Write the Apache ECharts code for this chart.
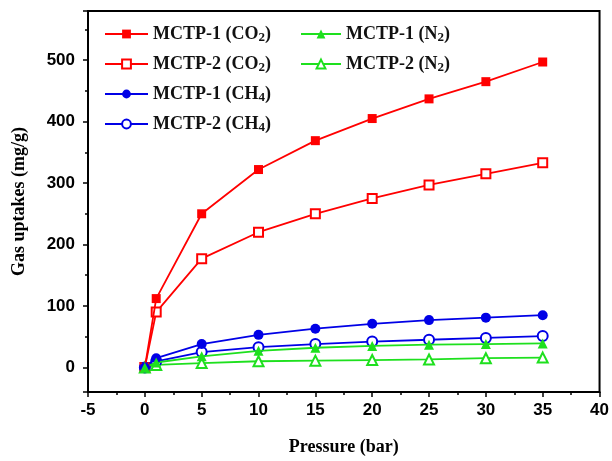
<!DOCTYPE html>
<html>
<head>
<meta charset="utf-8">
<script src="https://cdn.jsdelivr.net/npm/echarts@6/dist/echarts.min.js"></script>
<style>
  html, body { margin: 0; padding: 0; background: #fff; }
  #chart { width: 612px; height: 461px; }
</style>
</head>
<body>
<div id="chart"></div>
<script>
// pressure (bar)
const pressure = [0, 1, 5, 10, 15, 20, 25, 30, 35];
// gas uptakes (mg/g)
const mctp1CO2 = [0, 112, 250, 322, 369, 405, 437, 465, 497];
const mctp2CO2 = [0, 90, 177, 220, 250, 275, 297, 315, 333];
const mctp1CH4 = [0, 15, 38, 53, 63, 71, 77, 81, 85];
const mctp2CH4 = [0, 10, 25, 33, 38, 42, 45, 48, 51];
const mctp1N2 = [0, 8, 18, 27, 32, 35, 37, 38, 39];
const mctp2N2 = [0, 4, 7, 10, 11, 12, 13, 15, 16];

const RED = '#ff0000', BLUE = '#0000e6', GREEN = '#1ee01e';

function pairs(ys) {
  return pressure.map((x, i) => [x, ys[i]]);
}

function makeSeries(name, ys, color, symbol, size) {
  const empty = symbol.indexOf('empty') === 0;
  return {
    name: name,
    type: 'line',
    data: pairs(ys),
    symbol: symbol,
    symbolSize: size,
    showAllSymbol: true,
    lineStyle: { color: color, width: 1.8 },
    itemStyle: { color: color, borderWidth: empty ? 1.1 : 0, borderColor: color },
    z: empty ? 3 : 4
  };
}

// subscript the formula digit in legend names
function legendFmt(name) {
  return name.replace(/\(([A-Z]+)(\d)\)/, '($1{sub|$2})');
}
const legendText = {
  fontFamily: 'Liberation Serif',
  fontWeight: 'bold',
  fontSize: 18,
  color: '#111',
  rich: {
    sub: { fontFamily: 'Liberation Serif', fontWeight: 'bold', fontSize: 13, color: '#111', padding: [7, 0, 0, 0] }
  }
};

const chart = echarts.init(document.getElementById('chart'));
chart.setOption({
  animation: false,
  grid: { left: 88, right: 11, top: 11, bottom: 69, show: true, borderColor: '#000', borderWidth: 2 },
  legend: [
    {
      data: ['MCTP-1 (CO2)', 'MCTP-2 (CO2)', 'MCTP-1 (CH4)', 'MCTP-2 (CH4)'],
      orient: 'vertical', left: 99, top: 20,
      itemWidth: 43, itemHeight: 11, itemGap: 11,
      formatter: legendFmt, textStyle: legendText
    },
    {
      data: ['MCTP-1 (N2)', 'MCTP-2 (N2)'],
      orient: 'vertical', left: 295, top: 20,
      itemWidth: 40, itemHeight: 11, itemGap: 11,
      formatter: legendFmt, textStyle: legendText
    }
  ],
  xAxis: {
    type: 'value', min: -5, max: 40, interval: 5,
    name: 'Pressure (bar)', nameLocation: 'middle', nameGap: 46,
    nameTextStyle: { fontFamily: 'Liberation Serif', fontWeight: 'bold', fontSize: 18, color: '#000' },
    axisLine: { onZero: false, lineStyle: { color: '#000', width: 2 } },
    axisTick: { show: true, inside: false, length: 5, lineStyle: { color: '#000', width: 1.5 } },
    minorTick: { show: true, splitNumber: 2, length: 3, lineStyle: { color: '#000', width: 1.5 } },
    axisLabel: { fontFamily: 'Liberation Sans', fontWeight: 'bold', fontSize: 17, color: '#000', margin: 10 },
    splitLine: { show: false }
  },
  yAxis: {
    type: 'value', min: -40, max: 580, splitNumber: 6,
    name: 'Gas uptakes (mg/g)', nameLocation: 'middle', nameGap: 60,
    nameTextStyle: { fontFamily: 'Liberation Serif', fontWeight: 'bold', fontSize: 18, color: '#000' },
    axisLine: { onZero: false, lineStyle: { color: '#000', width: 2 } },
    axisTick: { show: true, inside: false, length: 5, lineStyle: { color: '#000', width: 1.5 } },
    minorTick: { show: true, splitNumber: 2, length: 3, lineStyle: { color: '#000', width: 1.5 } },
    axisLabel: {
      fontFamily: 'Liberation Sans', fontWeight: 'bold', fontSize: 17, color: '#000', margin: 13,
      showMinLabel: false, showMaxLabel: false,
      formatter: v => (v % 100 === 0 ? String(v) : '')
    },
    splitLine: { show: false }
  },
  series: [
    makeSeries('MCTP-1 (CO2)', mctp1CO2, RED, 'rect', 9),
    makeSeries('MCTP-2 (CO2)', mctp2CO2, RED, 'emptyRect', 9),
    makeSeries('MCTP-1 (CH4)', mctp1CH4, BLUE, 'circle', 10),
    makeSeries('MCTP-2 (CH4)', mctp2CH4, BLUE, 'emptyCircle', 10),
    makeSeries('MCTP-1 (N2)', mctp1N2, GREEN, 'triangle', 10),
    makeSeries('MCTP-2 (N2)', mctp2N2, GREEN, 'emptyTriangle', 10)
  ]
});
</script>
</body>
</html>
